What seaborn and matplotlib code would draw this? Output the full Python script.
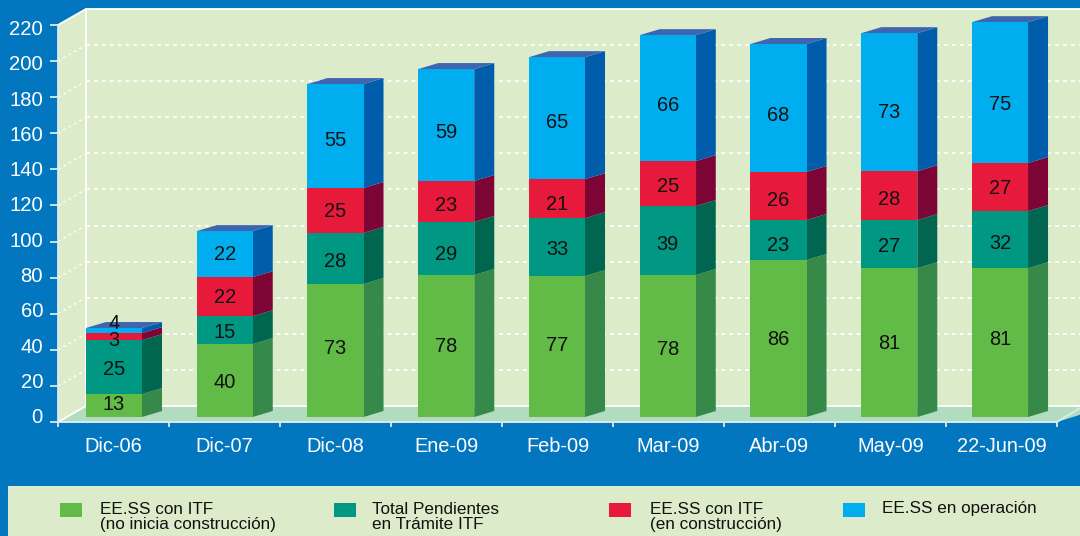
import matplotlib
matplotlib.use("Agg")
import matplotlib.pyplot as plt
from matplotlib.transforms import ScaledTranslation
import seaborn as sns
import numpy as np
from matplotlib.patches import Polygon, Rectangle

# Data: printed labels and segment heights
categories = ["Dic-06", "Dic-07", "Dic-08", "Ene-09", "Feb-09", "Mar-09", "Abr-09", "May-09", "22-Jun-09"]
no_inicia_labels = [13, 40, 73, 78, 77, 78, 86, 81, 81]
tramite_labels = [25, 15, 28, 29, 33, 39, 23, 27, 32]
construccion_labels = [3, 22, 25, 23, 21, 25, 26, 28, 27]
operacion_labels = [4, 22, 55, 59, 65, 66, 68, 73, 75]
no_inicia_heights = [12.7, 40.4, 73.7, 78.7, 78.1, 78.7, 87.0, 82.5, 82.5]
tramite_heights = [29.9, 15.5, 28.3, 29.4, 32.1, 38.2, 22.2, 26.6, 31.6]
construccion_heights = [3.9, 21.6, 24.9, 22.7, 21.6, 24.9, 26.6, 27.1, 26.6]
operacion_heights = [2.8, 25.5, 57.6, 62.0, 67.6, 69.8, 70.9, 76.5, 78.1]
y_ticks = list(range(0, 221, 20))
legend_lines = ["EE.SS con ITF\n(no inicia construcción)", "Total Pendientes\nen Trámite ITF",
                "EE.SS con ITF\n(en construcción)", "EE.SS en operación"]

# Vertical centre of each printed number, in image rows
label_rows = [
    [405, 383, 348, 346, 345, 349, 339, 343, 339],
    [369, 332, 261, 254, 249, 244, 245, 246, 243],
    [340, 297, 211, 205, 204, 186, 200, 199, 188],
    [323, 254, 140, 132, 122, 105, 115, 112, 104],
]

# Style
W, H = 1080, 536
BG = "#0277BF"
WALL = "#DCEBCA"
FLOOR = "#B2DCC0"
AXIS_C = "#D8ECF2"
front = ["#62BB46", "#009882", "#E81A3B", "#00AEEF"]
side = ["#37894A", "#00664F", "#7D0535", "#005DAB"]
top_c = "#3F65B0"
X0, X1, Y_ZERO, Y_TOP = 58, 1057, 422, 25
PX_PER_UNIT = (Y_ZERO - Y_TOP) / 220
DEPTH_X, DEPTH_Y = 28, 16
BAR_LIFT = 5
BAR_DX, BAR_DY = 20, 6
BAR_X0, BAR_X1 = 58.6, 1055.4

sns.set_style("white")
plt.rcParams["font.family"] = ["Liberation Sans", "DejaVu Sans"]

fig = plt.figure(figsize=(W / 100, H / 100), dpi=100, facecolor=BG)


def rect(x0, x1, ytop, ybot):
    return [x0 / W, 1 - ybot / H, (x1 - x0) / W, (ybot - ytop) / H]


# Decoration axes in image pixels
bg = fig.add_axes([0, 0, 1, 1], zorder=0)
bg.set_xlim(0, W)
bg.set_ylim(H, 0)
bg.axis("off")
bx0, by0 = X0 + DEPTH_X, Y_ZERO - DEPTH_Y
by_top = Y_TOP - DEPTH_Y
bg.add_patch(Rectangle((bx0, by_top), W + 40 - bx0, by0 - by_top, fc=WALL, ec="none"))
bg.add_patch(Polygon([(X0, Y_ZERO), (bx0, by0), (bx0, by_top), (X0, Y_TOP)], fc=WALL, ec="none"))
bg.add_patch(Polygon([(X0, Y_ZERO), (bx0, by0), (W + 40, by0), (X1 + 40, Y_ZERO)], fc=FLOOR, ec="none"))
bg.add_patch(Polygon([(X1, Y_ZERO), (W + 28, by0 - 0), (W + 40, Y_ZERO + 30), (X1, Y_ZERO + 1)], fc=BG, ec="none"))
for v in y_ticks[1:-1]:
    yb = by0 - v * PX_PER_UNIT
    yf = Y_ZERO - v * PX_PER_UNIT
    bg.plot([bx0, W], [yb, yb], color="white", lw=1.3, dashes=(2, 2.4))
    bg.plot([X0, bx0], [yf, yb], color="white", lw=1.0, dashes=(2, 2.4))
bg.plot([bx0, bx0], [by0, by_top], color="white", lw=1.3)
bg.plot([bx0, W], [by_top, by_top], color="white", lw=1.3)
bg.plot([bx0, W], [by0, by0], color="white", lw=1.3)
bg.plot([X0, bx0], [Y_ZERO, by0], color="white", lw=1.3)
bg.plot([X0, bx0], [Y_TOP, by_top], color="white", lw=1.3)
bg.plot([X0, X0], [Y_ZERO, Y_TOP], color=AXIS_C, lw=1.3)
bg.plot([X1, W], [Y_ZERO, by0 + 2], color=AXIS_C, lw=1.3)

# Legend band
bg.add_patch(Rectangle((8, 486), W, 50, fc=WALL, ec="none"))
for c, tx, sx, sw, text in zip(front, [100, 372, 650, 882], [60, 334, 609, 843], [22] * 4, legend_lines):
    bg.add_patch(Rectangle((sx, 503), sw, 14, fc=c, ec="none"))
    two = "\n" in text
    bg.text(tx, 517 if two else 509, text, color="#111111", fontsize=12.3, ha="left",
            va="center", linespacing=0.92)

# Value axis plane: ticks and labels
ax = fig.add_axes(rect(X0, X1, Y_TOP, Y_ZERO), zorder=1)
ax.patch.set_alpha(0)
ax.set_xlim(-0.5, 8.5)
ax.set_ylim(0, 220)
for s in ["top", "right", "left"]:
    ax.spines[s].set_visible(False)
ax.spines["bottom"].set_color(AXIS_C)
ax.spines["bottom"].set_linewidth(1.4)
ax.set_yticks(y_ticks)
ax.tick_params(axis="y", length=5.8, width=1.3, color=AXIS_C, labelcolor="white", labelsize=14.6, pad=5, left=True)
# The printed numbers sit on a slightly tighter spacing than the tick marks
for i, lab in enumerate(ax.get_yticklabels()):
    shift_px = (6.3 - 0.8 * i)
    lab.set_transform(lab.get_transform() + ScaledTranslation(0, shift_px / 100, fig.dpi_scale_trans))
ax.set_xticks(np.arange(-0.5, 9, 1))
ax.set_xticklabels([])
ax.tick_params(axis="x", which="major", length=3.6, width=1.3, color=AXIS_C, bottom=True)
ax.set_xticks(np.arange(9), minor=True)
ax.set_xticklabels(categories, minor=True)
ax.tick_params(axis="x", which="minor", length=0, labelcolor="white", labelsize=14.4, pad=11)

# Bars plane
bax = fig.add_axes(rect(BAR_X0, BAR_X1, Y_TOP - BAR_LIFT, Y_ZERO - BAR_LIFT), zorder=2)
bax.patch.set_alpha(0)
series = [no_inicia_heights, tramite_heights, construccion_heights, operacion_heights]
labels = [no_inicia_labels, tramite_labels, construccion_labels, operacion_labels]
bottom = np.zeros(len(categories))
for k, vals in enumerate(series):
    n_before = len(bax.patches)
    sns.barplot(x=categories, y=vals, bottom=bottom, color=front[k], saturation=1, width=0.506,
                ax=bax, linewidth=0, zorder=3)
    dx = BAR_DX / ((BAR_X1 - BAR_X0) / 9)
    dy = BAR_DY / PX_PER_UNIT
    for p in bax.patches[n_before:]:
        x, w, y0, h = p.get_x(), p.get_width(), p.get_y(), p.get_height()
        xr = x + w
        bax.add_patch(Polygon([(xr, y0), (xr + dx, y0 + dy), (xr + dx, y0 + h + dy), (xr, y0 + h)],
                              fc=side[k], ec="none", zorder=2, clip_on=False))
        if k == len(series) - 1:
            bax.add_patch(Polygon([(x, y0 + h), (x + dx, y0 + h + dy), (xr + dx, y0 + h + dy), (xr, y0 + h)],
                                  fc=top_c, ec="none", zorder=2, clip_on=False))
    bottom = bottom + np.array(vals)
bax.set_xlim(-0.5, 8.5)
bax.set_ylim(0, 220)
bax.axis("off")
for k, labs in enumerate(labels):
    for i, lab in enumerate(labs):
        bax.text(i, (Y_ZERO - BAR_LIFT - label_rows[k][i]) / PX_PER_UNIT, str(lab), ha="center", va="center",
                 color="#111111", fontsize=14.4, zorder=5)

fig.savefig("out.png", dpi=100, facecolor=BG)
